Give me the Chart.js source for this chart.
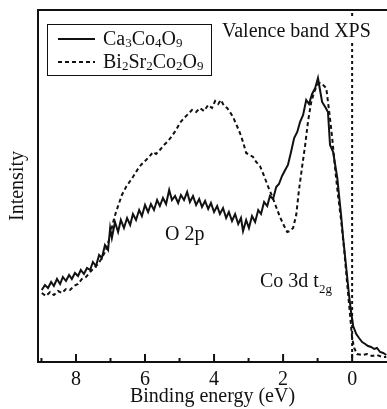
<!DOCTYPE html>
<html>
<head>
<meta charset="utf-8">
<script src="https://cdn.jsdelivr.net/npm/chart.js@4.4.0/dist/chart.umd.min.js"></script>
<style>
  body { margin: 0; background: #fff; }
  #wrap { width: 387px; height: 409px; position: relative; }
</style>
</head>
<body>
<div id="wrap"><canvas id="chart"></canvas></div>
<script>
// Ca3Co4O9 (solid)
const energyCa = [
  8.99, 8.90, 8.81, 8.72, 8.64, 8.55, 8.46, 8.38, 8.29, 8.20,
  8.12, 8.03, 7.94, 7.86, 7.77, 7.68, 7.59, 7.51, 7.42, 7.33,
  7.25, 7.16, 7.07, 7.01, 6.96, 6.87, 6.78, 6.70, 6.61, 6.52,
  6.43, 6.35, 6.26, 6.17, 6.09, 6.00, 5.91, 5.83, 5.74, 5.65,
  5.57, 5.48, 5.39, 5.30, 5.22, 5.13, 5.04, 4.96, 4.87, 4.78,
  4.70, 4.61, 4.52, 4.43, 4.35, 4.26, 4.17, 4.09, 4.00, 3.91,
  3.83, 3.74, 3.65, 3.57, 3.48, 3.39, 3.30, 3.22, 3.16, 3.07,
  2.99, 2.90, 2.81, 2.72, 2.64, 2.55, 2.46, 2.38, 2.29, 2.20,
  2.12, 2.03, 1.94, 1.86, 1.77, 1.68, 1.59, 1.51, 1.42, 1.33,
  1.25, 1.16, 1.07, 0.99, 0.93, 0.87, 0.78, 0.70, 0.64, 0.55,
  0.49, 0.43, 0.38, 0.32, 0.26, 0.20, 0.14, 0.09, 0.03, -0.03,
  -0.12, -0.20, -0.29, -0.38, -0.46, -0.55, -0.64, -0.72, -0.81, -0.90,
  -0.99
];
const intensityCa = [
  72, 77, 74, 80, 76, 83, 78, 85, 81, 87,
  83, 89, 86, 92, 88, 94, 92, 100, 96, 107,
  104, 117, 112, 134, 124, 140, 130, 142, 134, 144,
  137, 148, 142, 152, 146, 157, 150, 158, 152, 162,
  156, 164, 158, 172, 162, 166, 159, 167, 162, 170,
  160, 166, 157, 163, 155, 161, 153, 159, 150, 156,
  148, 154, 144, 150, 141, 148, 138, 144, 131, 142,
  134, 146, 140, 152, 148, 160, 156, 166, 163, 175,
  178, 186, 192, 197, 210, 224, 230, 240, 247, 262,
  258, 268, 274, 284, 272, 260, 255, 250, 217, 210,
  197, 184, 167, 147, 124, 104, 84, 67, 50, 36,
  28, 24, 20, 18, 16, 15, 13, 14, 10, 9,
  7
];

// Bi2Sr2Co2O9 (dashed)
const energyBi = [
  8.99, 8.87, 8.75, 8.64, 8.52, 8.41, 8.29, 8.17, 8.06, 7.94,
  7.83, 7.71, 7.59, 7.48, 7.36, 7.25, 7.13, 7.01, 6.93, 6.84,
  6.75, 6.67, 6.55, 6.43, 6.35, 6.26, 6.17, 6.09, 5.97, 5.86,
  5.77, 5.68, 5.57, 5.45, 5.33, 5.22, 5.10, 4.99, 4.87, 4.75,
  4.64, 4.52, 4.41, 4.29, 4.17, 4.06, 3.97, 3.88, 3.80, 3.71,
  3.62, 3.54, 3.45, 3.36, 3.25, 3.16, 3.07, 2.96, 2.87, 2.78,
  2.67, 2.55, 2.43, 2.32, 2.20, 2.09, 1.97, 1.88, 1.80, 1.71,
  1.62, 1.54, 1.45, 1.36, 1.28, 1.19, 1.10, 1.01, 0.93, 0.84,
  0.75, 0.67, 0.58, 0.49, 0.41, 0.32, 0.23, 0.14, 0.06, 0.00,
  -0.06, -0.14, -0.29, -0.43, -0.58, -0.72, -0.87, -0.99
];
const intensityBi = [
  69, 66, 70, 67, 71, 69, 73, 72, 76, 78,
  83, 85, 90, 94, 98, 104, 112, 126, 139, 150,
  159, 167, 175, 181, 185, 190, 195, 198, 202, 206,
  210, 208, 212, 217, 221, 226, 232, 239, 244, 248,
  252, 250, 254, 251, 257, 254, 261, 258, 262, 256,
  254, 250, 245, 238, 229, 220, 209, 207, 205, 200,
  196, 186, 175, 166, 155, 145, 136, 130, 131, 134,
  147, 172, 195, 217, 240, 259, 270, 277, 279, 277,
  274, 252, 225, 192, 167, 142, 112, 77, 47, 24,
  14, 8, 7, 8, 6, 7, 5, 5
];

const seriesNames = ['Ca3Co4O9', 'Bi2Sr2Co2O9'];
const labelTicks = [8, 6, 4, 2, 0];
const minorTicks = [9, 7, 5, 3, 1];
const fermiLevel = 0;

const ink = '#111';
const serif = '"Liberation Serif", "Times New Roman", serif';

const toPoints = (xs, ys) => xs.map((x, i) => ({ x: x, y: ys[i] }));

// text with digits set as small subscripts
const drawFormula = (ctx, text, x, y) => {
    ctx.textBaseline = 'alphabetic';
    ctx.textAlign = 'left';
    for (const ch of text) {
        if (/[0-9]/.test(ch)) {
            ctx.font = '13px ' + serif;
            ctx.fillText(ch, x, y + 2);
        } else {
            ctx.font = '20px ' + serif;
            ctx.fillText(ch, x, y);
        }
        x += ctx.measureText(ch).width;
    }
}

const decorations = {
    id: 'decorations',
    afterDatasetsDraw(chart) {
        const ctx = chart.ctx;
        const area = chart.chartArea;
        const xs = chart.scales.x;

        ctx.save();
        ctx.fillStyle = ink;
        ctx.strokeStyle = ink;

        // dotted Fermi level line
        const xf = xs.getPixelForValue(fermiLevel);
        ctx.lineWidth = 2;
        ctx.setLineDash([3, 3]);
        ctx.beginPath();
        ctx.moveTo(xf, area.top + 3);
        ctx.lineTo(xf, area.bottom);
        ctx.stroke();
        ctx.setLineDash([]);

        // frame: left, top, bottom
        ctx.lineWidth = 2;
        ctx.beginPath();
        ctx.moveTo(area.left, area.bottom);
        ctx.lineTo(area.left, area.top);
        ctx.lineTo(area.right, area.top);
        ctx.moveTo(area.left - 1, area.bottom);
        ctx.lineTo(area.right, area.bottom);
        ctx.stroke();

        // inward ticks
        labelTicks.forEach(v => {
            const px = xs.getPixelForValue(v);
            ctx.beginPath();
            ctx.moveTo(px, area.bottom);
            ctx.lineTo(px, area.bottom - 8);
            ctx.stroke();
        });
        minorTicks.forEach(v => {
            const px = xs.getPixelForValue(v);
            ctx.beginPath();
            ctx.moveTo(px, area.bottom);
            ctx.lineTo(px, area.bottom - 4);
            ctx.stroke();
        });

        // title with white backing
        ctx.font = '20px ' + serif;
        ctx.textBaseline = 'alphabetic';
        ctx.textAlign = 'left';
        const title = 'Valence band XPS';
        const tw = ctx.measureText(title).width;
        ctx.fillStyle = '#fff';
        ctx.fillRect(221, 17, tw + 2, 24);
        ctx.fillStyle = ink;
        ctx.fillText(title, 222, 37);

        // legend box
        ctx.lineWidth = 1;
        ctx.strokeRect(47.5, 24.5, 164, 51);
        ctx.lineWidth = 2;
        ctx.beginPath();
        ctx.moveTo(58, 39);
        ctx.lineTo(95, 39);
        ctx.stroke();
        ctx.setLineDash([4, 3]);
        ctx.beginPath();
        ctx.moveTo(58, 62);
        ctx.lineTo(95, 62);
        ctx.stroke();
        ctx.setLineDash([]);
        drawFormula(ctx, seriesNames[0], 103, 45);
        drawFormula(ctx, seriesNames[1], 103, 68);

        // peak labels
        ctx.font = '20px ' + serif;
        ctx.fillText('O 2p', 165, 240);
        ctx.fillText('Co 3d t', 260, 287);
        const cw = ctx.measureText('Co 3d t').width;
        ctx.font = '13px ' + serif;
        ctx.fillText('2g', 260 + cw, 293);

        ctx.restore();
    }
}

const ctx = document.getElementById('chart').getContext('2d');

new Chart(ctx, {
    type: 'line',
    data: {
        datasets: [
            {
                label: seriesNames[0],
                data: toPoints(energyCa, intensityCa),
                borderColor: ink,
                borderWidth: 2,
                pointRadius: 0,
                tension: 0
            },
            {
                label: seriesNames[1],
                data: toPoints(energyBi, intensityBi),
                borderColor: ink,
                borderWidth: 2,
                borderDash: [4, 3],
                pointRadius: 0,
                tension: 0
            }
        ]
    },
    options: {
        responsive: true,
        maintainAspectRatio: false,
        animation: false,
        layout: { padding: { top: 10, right: 0, left: 0, bottom: 0 } },
        plugins: {
            legend: { display: false },
            tooltip: { enabled: false }
        },
        scales: {
            x: {
                type: 'linear',
                reverse: true,
                min: -1.01,
                max: 9.1,
                afterBuildTicks: (scale) => {
                    scale.ticks = labelTicks.map(v => ({ value: v }));
                },
                afterFit: (scale) => { scale.height = 47; },
                grid: { display: false, drawTicks: false },
                border: { display: false },
                ticks: {
                    color: ink,
                    padding: 6,
                    maxRotation: 0,
                    font: { family: serif, size: 20 },
                    callback: (v) => String(v)
                },
                title: {
                    display: true,
                    text: 'Binding energy (eV)',
                    color: ink,
                    padding: { top: 0, bottom: 0 },
                    font: { family: serif, size: 20 }
                }
            },
            y: {
                min: 0,
                max: 352,
                afterFit: (scale) => { scale.width = 38; },
                grid: { display: false, drawTicks: false },
                border: { display: false },
                ticks: { display: false },
                title: {
                    display: true,
                    text: 'Intensity',
                    color: ink,
                    padding: { top: 6, bottom: 0 },
                    font: { family: serif, size: 20 }
                }
            }
        }
    },
    plugins: [decorations]
});
</script>
</body>
</html>
